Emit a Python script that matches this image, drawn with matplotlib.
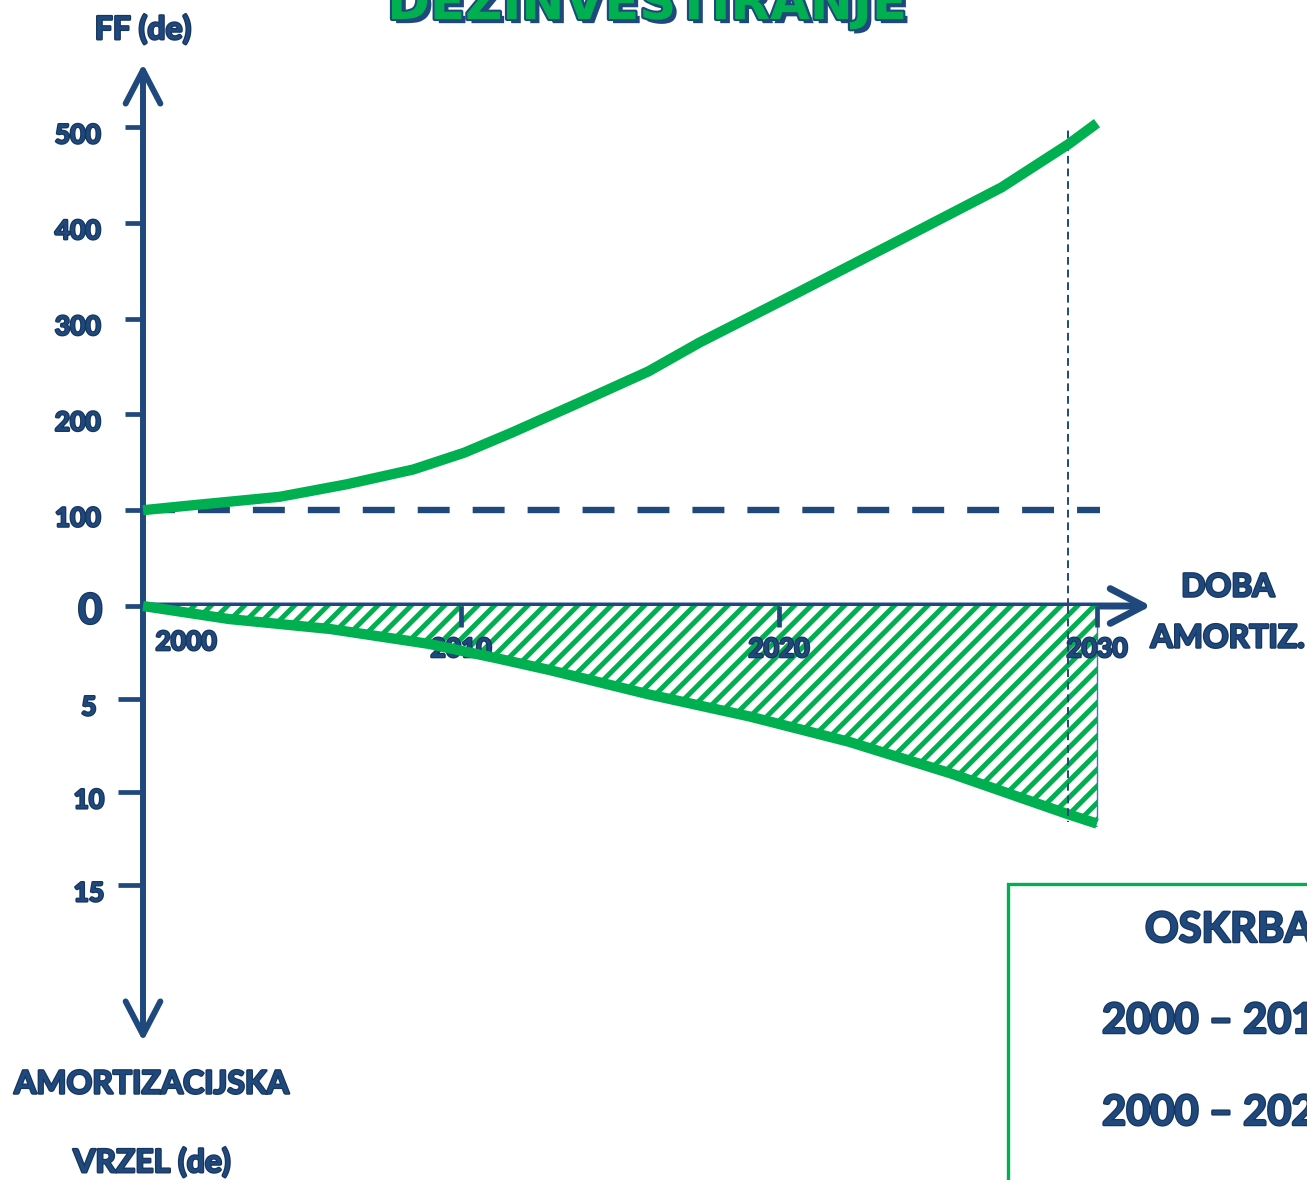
import matplotlib
matplotlib.use("Agg")
import matplotlib.pyplot as plt
import matplotlib.patheffects as pe
from matplotlib.patches import Rectangle

GREEN = "#00B050"
BLUE = "#1F497D"
EDGE = "#4472C4"

# data
ff_years = [2000, 2001.2, 2004.3, 2006.4, 2008.5, 2010.1, 2011.6, 2013.7, 2015.9,
            2017.5, 2020.7, 2023.8, 2027.0, 2029.1, 2030]
ff_values = [100, 104, 114, 127, 142.5, 160, 181, 212, 245, 275, 329, 382, 437, 482, 504]
gap_years = [2000, 2002.7, 2005.9, 2009.0, 2011.1, 2012.8, 2015.9, 2019.1, 2022.2,
             2025.4, 2029.1, 2030]
gap_values = [0, 0.7, 1.24, 2.04, 2.8, 3.45, 4.75, 5.95, 7.3, 9.0, 11.2, 11.7]
base_level = 100
cutoff_year = 2029.1
ff_ticks = [0, 100, 200, 300, 400, 500]
gap_ticks = [5, 10, 15]
year_ticks = [2010, 2020, 2030]
year_labels = ["2010", "2020", "2030"]
box_lines = ["OSKRBA", "2000 – 2010", "2000 – 2020"]

plt.rcParams["font.family"] = ["Lato", "DejaVu Sans"]
plt.rcParams["hatch.linewidth"] = 3.6

W, H = 1307, 1180
fig = plt.figure(figsize=(W / 100, H / 100), dpi=100)

# layout: x axis of years, 31.8 px per year, year 2000 at px 143
px_per_year = 31.8
x_lo = 2000 - 143 / px_per_year
x_hi = 2000 + (W - 143) / px_per_year
y_zero = 606
ax_top = fig.add_axes([0, (H - y_zero) / H, 1, y_zero / H])
ax_bot = fig.add_axes([0, 0, 1, (H - y_zero) / H])
ax_top.set_xlim(x_lo, x_hi)
ax_bot.set_xlim(x_lo, x_hi)
ax_top.set_ylim(0, y_zero / 0.958)
ax_bot.set_ylim((H - y_zero) / 18.6, 0)

for ax in (ax_top, ax_bot):
    ax.patch.set_visible(False)
    for s in ax.spines.values():
        s.set_visible(False)
    ax.spines["left"].set_position(("data", 2000))

txt_fx = [pe.withStroke(linewidth=1.8, foreground="#17365D")]
lab_kw = dict(color=BLUE, fontweight="bold", path_effects=txt_fx)

# y ticks
ax_top.set_yticks(ff_ticks)
ax_top.tick_params(axis="y", length=13, width=3.4, color=BLUE, labelleft=False)
ax_top.set_xticks([])
ax_bot.set_yticks(gap_ticks)
ax_bot.tick_params(axis="y", length=18, width=3.4, color=BLUE, labelleft=False)
ax_bot.xaxis.set_ticks_position("top")
ax_bot.set_xticks(year_ticks)
ax_bot.tick_params(axis="x", direction="in", length=15, width=3.4, color=BLUE, labeltop=False)

for v in ff_ticks:
    if v == 0:
        ax_top.annotate("0", xy=(2000, v), xytext=(-38, -4), textcoords="offset points",
                        ha="center", va="center", fontsize=30, **lab_kw)
    else:
        ax_top.annotate(str(v), xy=(2000, v), xytext=(-47, -6), textcoords="offset points",
                        ha="center", va="center", fontsize=19, **lab_kw)
for v in gap_ticks:
    ax_bot.annotate(str(v), xy=(2000, v), xytext=(-39, -6), textcoords="offset points",
                    ha="center", va="center", fontsize=19, **lab_kw)

ax_bot.annotate("2000", xy=(2000, 0), xytext=(9, -26), textcoords="offset points",
                ha="left", va="center", fontsize=19, **lab_kw)
for yr, lab in zip(year_ticks, year_labels):
    ax_bot.annotate(lab, xy=(yr, 0), xytext=(0, -31), textcoords="offset points",
                    ha="center", va="center", fontsize=19, **lab_kw)

# hatched gap area
ax_bot.fill_between(gap_years, 0, gap_values, facecolor="white", edgecolor=GREEN,
                    hatch="//", linewidth=0, zorder=1)
ax_bot.plot(gap_years, [g + 0.15 for g in gap_values], color=EDGE, lw=0.9, zorder=1.5)
ax_bot.plot([gap_years[-1]] * 2, [0, gap_values[-1] - 0.2], color=EDGE, lw=1.0, zorder=1.5)

# axes arrows
arrow = dict(arrowstyle="->,head_length=2.4,head_width=1.25", color=BLUE, lw=4.3,
             shrinkA=0, shrinkB=0, mutation_scale=10, capstyle="round", joinstyle="round")
ax_top.annotate("", xy=(2000, 566), xytext=(2000, 0), arrowprops=arrow, annotation_clip=False)
ax_bot.annotate("", xy=(2000, 23.4), xytext=(2000, 0), arrowprops=arrow, annotation_clip=False)
ax_top.annotate("", xy=(2031.7, 0), xytext=(2000, 0), arrowprops=dict(arrow, lw=5),
                annotation_clip=False)

# dashed base level and cutoff line
ax_top.hlines(base_level, 2000, 2030.1, colors=BLUE, lw=4.6,
              linestyles=(0, (5, 3.6)), zorder=2)
ax_top.vlines(cutoff_year, 0, 500, colors=BLUE, lw=1.4, linestyles=(0, (4, 2.5)), zorder=2)
ax_bot.vlines(cutoff_year, 0, 11.6, colors=BLUE, lw=1.4, linestyles=(0, (4, 2.5)), zorder=4)

# curves
ax_top.plot(ff_years, ff_values, color=GREEN, lw=7.4, solid_capstyle="butt",
            solid_joinstyle="round", zorder=3, clip_on=False)
ax_bot.plot(gap_years, gap_values, color=GREEN, lw=7.4, solid_capstyle="butt",
            solid_joinstyle="round", zorder=3, clip_on=False)

# titles and axis names
fig.text(647 / W, 1 - 19 / H, "DEZINVESTIRANJE", ha="center", va="baseline",
         fontsize=37, fontweight="bold", color=GREEN,
         family=["Liberation Sans Narrow", "DejaVu Sans"],
         path_effects=[pe.SimplePatchShadow(offset=(3, -3), shadow_rgbFace=BLUE, alpha=1),
                       pe.Stroke(linewidth=3, foreground=BLUE), pe.Normal()])
fig.text(143 / W, 1 - 29 / H, "FF (de)", ha="center", va="center", fontsize=23, **lab_kw)
fig.text(1228 / W, 1 - 587 / H, "DOBA", ha="center", va="center", fontsize=23, **lab_kw)
fig.text(1228 / W, 1 - 638 / H, "AMORTIZ.", ha="center", va="center", fontsize=23, **lab_kw)
fig.text(152 / W, 1 - 1084 / H, "AMORTIZACIJSKA", ha="center", va="center", fontsize=23, **lab_kw)
fig.text(152 / W, 1 - 1162 / H, "VRZEL (de)", ha="center", va="center", fontsize=23, **lab_kw)

# legend-like box, cut by the right edge
fig.add_artist(Rectangle((1008 / W, -0.05), 0.5, 0.05 + (H - 884) / H, transform=fig.transFigure,
                         facecolor="none", edgecolor=GREEN, lw=2.4))
fig.text(1145 / W, 1 - 930 / H, box_lines[0], ha="left", va="center", fontsize=30, **lab_kw)
fig.text(1102 / W, 1 - 1021 / H, box_lines[1], ha="left", va="center", fontsize=30, **lab_kw)
fig.text(1102 / W, 1 - 1113 / H, box_lines[2], ha="left", va="center", fontsize=30, **lab_kw)

fig.savefig("out.png", dpi=100)
